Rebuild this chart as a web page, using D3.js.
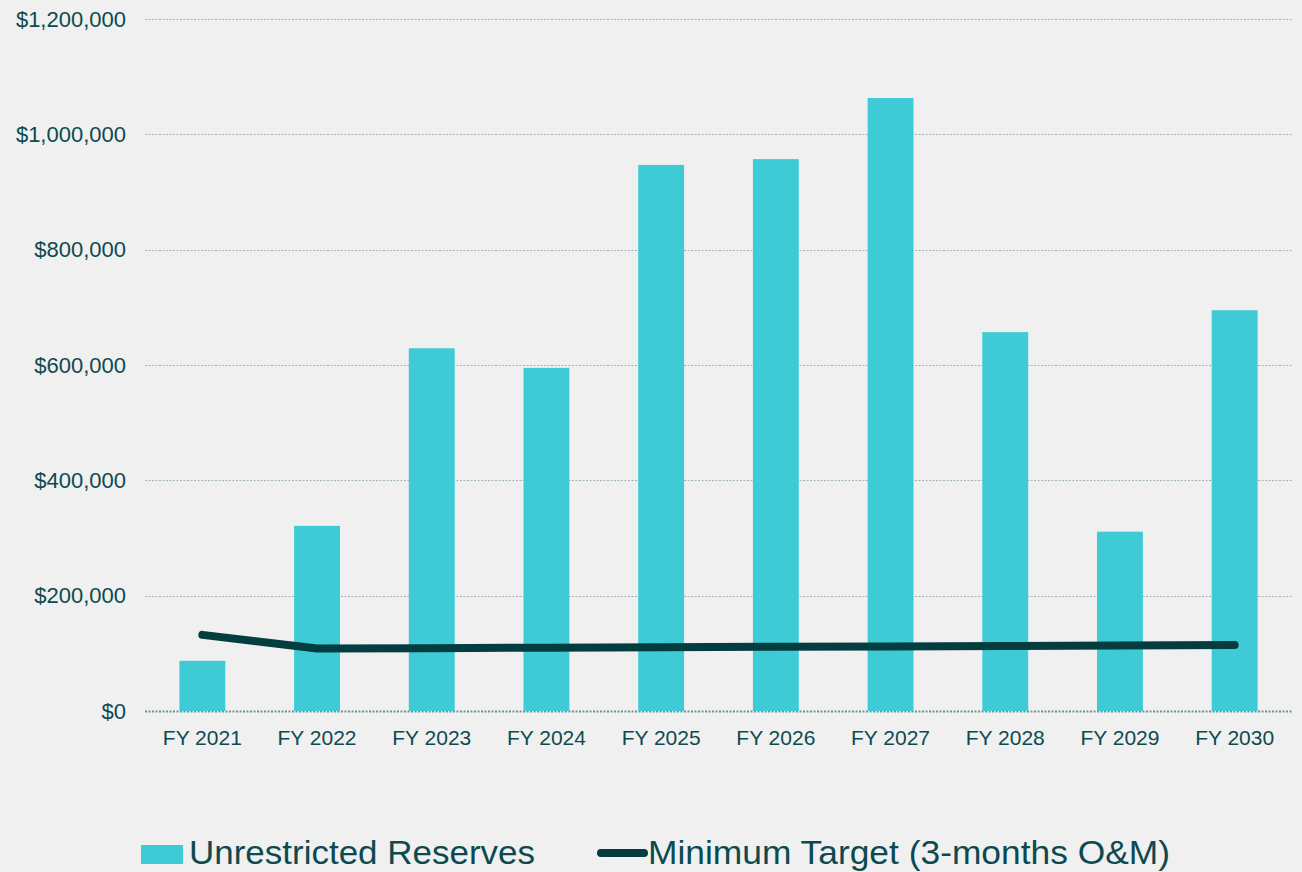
<!DOCTYPE html>
<meta charset="utf-8">
<script src="https://d3js.org/d3.v7.min.js"></script>
<style>
  body { margin: 0; background: #f0f0f0; }
  text { font-family: Arial, "Liberation Sans", sans-serif; fill: #0d4a4f; }
</style>
<svg id="chart" width="1302" height="872"></svg>
<script>
  // data
  var years = ["FY 2021", "FY 2022", "FY 2023", "FY 2024", "FY 2025", "FY 2026", "FY 2027", "FY 2028", "FY 2029", "FY 2030"];
  var reserves = [87000, 321000, 629000, 595000, 947000, 957000, 1063000, 657000, 311000, 695000];
  var minTarget = [132000, 108500, 109000, 109800, 110500, 111300, 112000, 112800, 113600, 114400];
  var yTicks = [0, 200000, 400000, 600000, 800000, 1000000, 1200000];

  var svg = d3.select("#chart"),
    width = +svg.attr("width"),
    height = +svg.attr("height");

  svg.append("rect").attr("width", width).attr("height", height).attr("fill", "#f0f0f0");

  var margin = { left: 145, right: 10, top: 19, bottom: 161 };

  var x = d3.scaleBand()
    .domain(years)
    .range([margin.left, width - margin.right])
    .paddingInner(0.6)
    .paddingOuter(0.3);

  var y = d3.scaleLinear()
    .domain([0, 1200000])
    .range([height - margin.bottom, margin.top]);

  // gridlines
  svg.append("g")
    .selectAll("line")
    .data(yTicks)
    .enter()
    .append("line")
    .attr("x1", margin.left)
    .attr("x2", width - margin.right)
    .attr("y1", function (d) { return Math.round(y(d)) + 0.5; })
    .attr("y2", function (d) { return Math.round(y(d)) + 0.5; })
    .attr("stroke", function (d) { return d === 0 ? "#6f8f92" : "#9fb3b5"; })
    .attr("stroke-width", function (d) { return d === 0 ? 2 : 1; })
    .attr("stroke-dasharray", "2,1.5");

  // y axis labels
  var fmt = d3.format(",");
  svg.append("g")
    .selectAll("text")
    .data(yTicks)
    .enter()
    .append("text")
    .attr("x", 126)
    .attr("y", function (d) { return y(d) + 7.5; })
    .attr("text-anchor", "end")
    .style("font-size", "22px")
    .text(function (d) { return "$" + fmt(d); });

  // bars
  svg.append("g")
    .selectAll("rect")
    .data(reserves)
    .enter()
    .append("rect")
    .attr("x", function (d, i) { return x(years[i]); })
    .attr("width", x.bandwidth())
    .attr("y", function (d) { return y(d); })
    .attr("height", function (d) { return y(0) - y(d); })
    .attr("fill", "#3ecbd5");

  // x labels
  svg.append("g")
    .selectAll("text")
    .data(years)
    .enter()
    .append("text")
    .attr("x", function (d) { return x(d) + x.bandwidth() / 2; })
    .attr("y", 745)
    .attr("text-anchor", "middle")
    .style("font-size", "21px")
    .text(function (d) { return d; });

  // minimum target line
  var line = d3.line()
    .x(function (d, i) { return x(years[i]) + x.bandwidth() / 2; })
    .y(function (d) { return y(d); });

  svg.append("path")
    .datum(minTarget)
    .attr("d", line)
    .attr("fill", "none")
    .attr("stroke", "#033d40")
    .attr("stroke-width", 8)
    .attr("stroke-linecap", "round")
    .attr("stroke-linejoin", "round");

  // legend
  var legend = svg.append("g");
  legend.append("rect")
    .attr("x", 141).attr("y", 845).attr("width", 42).attr("height", 19)
    .attr("fill", "#3ecbd5");
  legend.append("text")
    .attr("x", 189).attr("y", 864)
    .style("font-size", "33px")
    .attr("textLength", 346)
    .attr("lengthAdjust", "spacingAndGlyphs")
    .text("Unrestricted Reserves");
  legend.append("line")
    .attr("x1", 601).attr("x2", 644).attr("y1", 853).attr("y2", 853)
    .attr("stroke", "#033d40").attr("stroke-width", 8).attr("stroke-linecap", "round");
  legend.append("text")
    .attr("x", 648).attr("y", 864)
    .style("font-size", "33px")
    .attr("textLength", 522)
    .attr("lengthAdjust", "spacingAndGlyphs")
    .text("Minimum Target (3-months O&M)");
</script>
